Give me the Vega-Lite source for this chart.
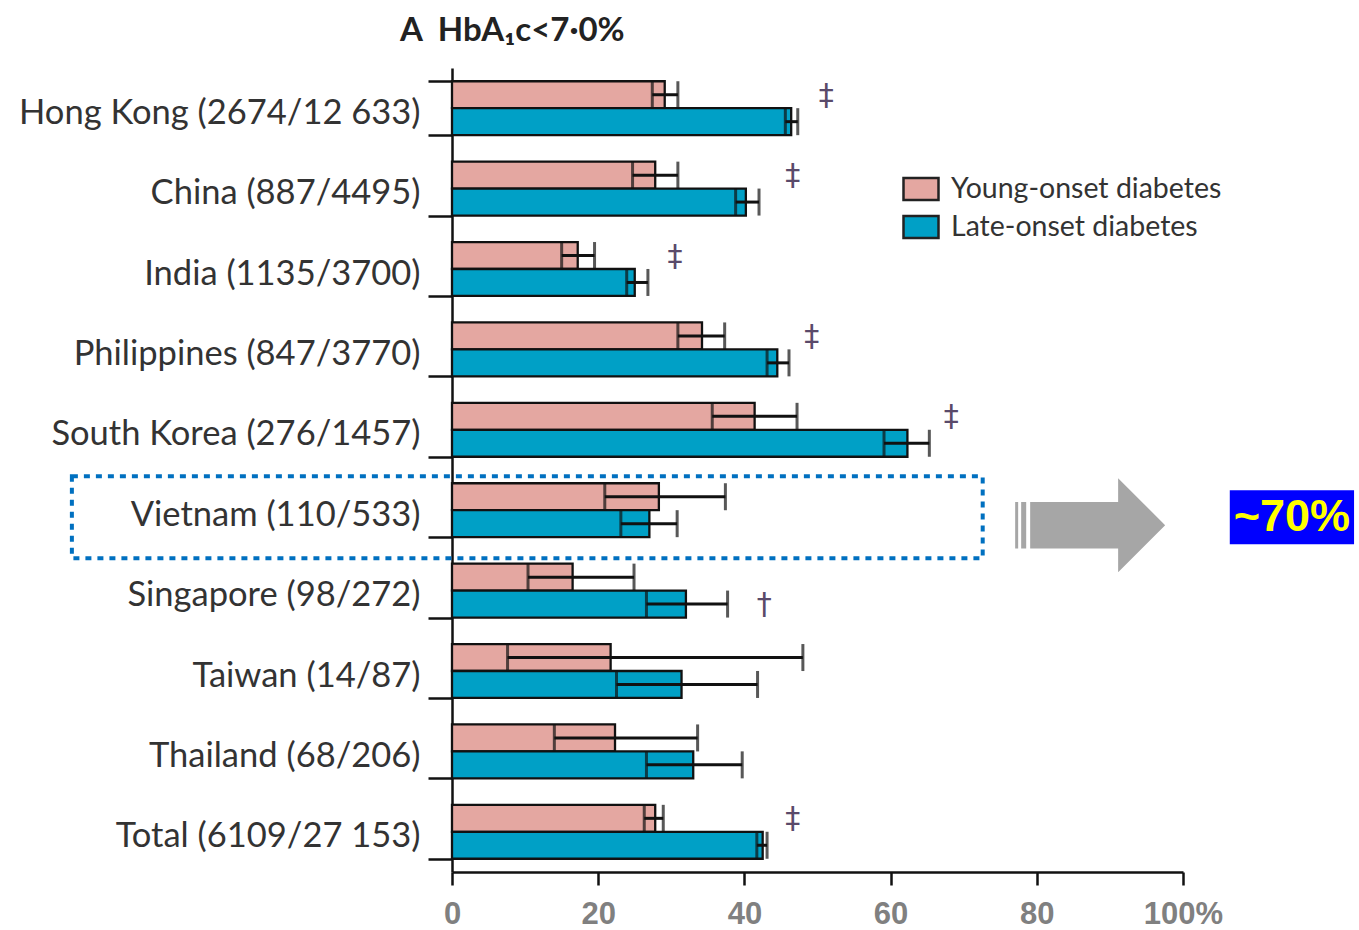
{
  "$schema": "https://vega.github.io/schema/vega-lite/v6.json",
  "autosize": {"type": "none"},
  "padding": {"left": 452, "top": 68, "right": 176, "bottom": 58},
  "width": 731,
  "height": 804,
  "background": "white",
  "title": {
    "text": "A\u00a0\u00a0HbA₁c<7·0%",
    "anchor": "start",
    "frame": "group",
    "dx": -52,
    "dy": 31,
    "offset": 0,
    "baseline": "bottom",
    "font": "Lato",
    "fontSize": 33,
    "fontWeight": "bold",
    "color": "#222222"
  },
  "config": {
    "view": {"stroke": null},
    "axis": {"grid": false}
  },
  "datasets": {
    "bars": [
      {"country": "Hong Kong (2674/12 633)", "group": "Young-onset diabetes", "value": 29.1, "lo": 27.4, "hi": 30.9, "sig": "‡", "sigx": 51.2},
      {"country": "Hong Kong (2674/12 633)", "group": "Late-onset diabetes", "value": 46.4, "lo": 45.6, "hi": 47.3, "sig": "", "sigx": null},
      {"country": "China (887/4495)", "group": "Young-onset diabetes", "value": 27.8, "lo": 24.7, "hi": 30.9, "sig": "‡", "sigx": 46.6},
      {"country": "China (887/4495)", "group": "Late-onset diabetes", "value": 40.2, "lo": 38.8, "hi": 42.0, "sig": "", "sigx": null},
      {"country": "India (1135/3700)", "group": "Young-onset diabetes", "value": 17.2, "lo": 15.0, "hi": 19.5, "sig": "‡", "sigx": 30.5},
      {"country": "India (1135/3700)", "group": "Late-onset diabetes", "value": 25.0, "lo": 23.9, "hi": 26.8, "sig": "", "sigx": null},
      {"country": "Philippines (847/3770)", "group": "Young-onset diabetes", "value": 34.2, "lo": 30.9, "hi": 37.3, "sig": "‡", "sigx": 49.2},
      {"country": "Philippines (847/3770)", "group": "Late-onset diabetes", "value": 44.5, "lo": 43.1, "hi": 46.1, "sig": "", "sigx": null},
      {"country": "South Korea (276/1457)", "group": "Young-onset diabetes", "value": 41.4, "lo": 35.6, "hi": 47.2, "sig": "‡", "sigx": 68.3},
      {"country": "South Korea (276/1457)", "group": "Late-onset diabetes", "value": 62.3, "lo": 59.1, "hi": 65.3, "sig": "", "sigx": null},
      {"country": "Vietnam (110/533)", "group": "Young-onset diabetes", "value": 28.3, "lo": 20.9, "hi": 37.4, "sig": "", "sigx": null},
      {"country": "Vietnam (110/533)", "group": "Late-onset diabetes", "value": 27.0, "lo": 23.1, "hi": 30.8, "sig": "", "sigx": null},
      {"country": "Singapore (98/272)", "group": "Young-onset diabetes", "value": 16.5, "lo": 10.4, "hi": 24.9, "sig": "", "sigx": null},
      {"country": "Singapore (98/272)", "group": "Late-onset diabetes", "value": 32.0, "lo": 26.6, "hi": 37.7, "sig": "†", "sigx": 42.7},
      {"country": "Taiwan (14/87)", "group": "Young-onset diabetes", "value": 21.7, "lo": 7.6, "hi": 48.0, "sig": "", "sigx": null},
      {"country": "Taiwan (14/87)", "group": "Late-onset diabetes", "value": 31.4, "lo": 22.5, "hi": 41.8, "sig": "", "sigx": null},
      {"country": "Thailand (68/206)", "group": "Young-onset diabetes", "value": 22.3, "lo": 14.0, "hi": 33.6, "sig": "", "sigx": null},
      {"country": "Thailand (68/206)", "group": "Late-onset diabetes", "value": 33.0, "lo": 26.6, "hi": 39.7, "sig": "", "sigx": null},
      {"country": "Total (6109/27 153)", "group": "Young-onset diabetes", "value": 27.8, "lo": 26.3, "hi": 28.9, "sig": "‡", "sigx": 46.6},
      {"country": "Total (6109/27 153)", "group": "Late-onset diabetes", "value": 42.5, "lo": 41.7, "hi": 43.1, "sig": "", "sigx": null}
    ],
    "note": [
      {"country": "Vietnam (110/533)", "boxStart": -52.0, "boxEnd": 72.6, "arrowX": 87.3, "labelStart": 106.4, "labelEnd": 123.4, "labelX": 114.9, "label": "~70%"}
    ]
  },
  "data": {"name": "bars"},
  "encoding": {
    "y": {
      "field": "country",
      "type": "nominal",
      "sort": null,
      "scale": {"paddingInner": 0.33, "paddingOuter": 0.165},
      "axis": {
        "title": null,
        "tickBand": "extent",
        "tickSize": 24,
        "tickWidth": 2.5,
        "tickColor": "#111111",
        "domainColor": "#111111",
        "domainWidth": 2.5,
        "labelFont": "Lato",
        "labelFontSize": 34.5,
        "labelColor": "#333333",
        "labelPadding": 8,
        "labelOffset": 5,
        "labelLimit": 500
      }
    }
  },
  "layer": [
    {
      "mark": {"type": "bar", "stroke": "#111111", "strokeWidth": 2.3, "opacity": 1},
      "encoding": {
        "yOffset": {"field": "group", "type": "nominal", "sort": ["Young-onset diabetes", "Late-onset diabetes"], "scale": {"paddingInner": 0, "paddingOuter": 0}},
        "x": {
          "field": "value",
          "type": "quantitative",
          "scale": {"domain": [0, 100], "nice": false},
          "axis": {
            "title": null,
            "values": [0, 20, 40, 60, 80, 100],
            "labelExpr": "datum.value == 100 ? '100%' : datum.label",
            "labelFlush": false,
            "tickSize": 13,
            "tickWidth": 2.5,
            "tickColor": "#111111",
            "domainColor": "#111111",
            "domainWidth": 2.5,
            "labelFont": "Liberation Sans",
            "labelFontWeight": "bold",
            "labelFontSize": 31,
            "labelColor": "#808080",
            "labelPadding": 14
          }
        },
        "color": {
          "field": "group",
          "type": "nominal",
          "scale": {"domain": ["Young-onset diabetes", "Late-onset diabetes"], "range": ["#e4a7a1", "#00a0c6"]},
          "legend": {
            "title": null,
            "orient": "none",
            "legendX": 450,
            "legendY": 102,
            "padding": 0,
            "symbolType": "M-1,-0.63H1V0.63H-1Z",
            "symbolSize": 1225,
            "symbolStrokeColor": "#222222",
            "symbolStrokeWidth": 2.5,
            "symbolOpacity": 1,
            "labelFont": "Lato",
            "labelFontSize": 28.5,
            "labelColor": "#333333",
            "labelOffset": 11,
            "rowPadding": 2,
            "labelLimit": 400
          }
        }
      }
    },
    {
      "mark": {"type": "rule", "color": "#111111", "strokeWidth": 3},
      "encoding": {
        "yOffset": {"field": "group", "type": "nominal", "sort": ["Young-onset diabetes", "Late-onset diabetes"]},
        "x": {"field": "lo", "type": "quantitative"},
        "x2": {"field": "hi"}
      }
    },
    {
      "mark": {"type": "tick", "color": "#111111", "thickness": 3, "size": 27, "orient": "vertical"},
      "encoding": {
        "yOffset": {"field": "group", "type": "nominal", "sort": ["Young-onset diabetes", "Late-onset diabetes"]},
        "x": {"field": "lo", "type": "quantitative"}
      }
    },
    {
      "mark": {"type": "tick", "color": "#111111", "thickness": 3, "size": 27, "orient": "vertical"},
      "encoding": {
        "yOffset": {"field": "group", "type": "nominal", "sort": ["Young-onset diabetes", "Late-onset diabetes"]},
        "x": {"field": "hi", "type": "quantitative"}
      }
    },
    {
      "transform": [{"filter": "datum.sig != ''"}],
      "mark": {"type": "text", "font": "DejaVu Sans", "fontSize": 30, "color": "#5a4a6a", "baseline": "middle", "dy": 1},
      "encoding": {
        "yOffset": {"field": "group", "type": "nominal", "sort": ["Young-onset diabetes", "Late-onset diabetes"]},
        "x": {"field": "sigx", "type": "quantitative"},
        "text": {"field": "sig"}
      }
    },
    {
      "data": {"name": "note"},
      "mark": {"type": "rect", "fill": null, "fillOpacity": 0, "stroke": "#0070c0", "strokeWidth": 4, "strokeDash": [6, 6], "height": {"band": 1.52}, "yOffset": 7},
      "encoding": {
        "x": {"field": "boxStart", "type": "quantitative"},
        "x2": {"field": "boxEnd"}
      }
    },
    {
      "data": {"name": "note"},
      "mark": {"type": "point", "filled": true, "fill": "#a6a6a6", "opacity": 1, "strokeWidth": 0, "size": 22500, "shape": "M-1,-0.11L-0.96,-0.11L-0.96,0.51L-1,0.51ZM-0.92,-0.11L-0.853,-0.11L-0.853,0.51L-0.92,0.51ZM-0.8,-0.11L0.373,-0.11L0.373,-0.427L1,0.2L0.373,0.827L0.373,0.51L-0.8,0.51Z"},
      "encoding": {
        "x": {"field": "arrowX", "type": "quantitative"}
      }
    },
    {
      "data": {"name": "note"},
      "mark": {"type": "bar", "fill": "#0000ff", "opacity": 1, "yOffset": 7},
      "encoding": {
        "x": {"field": "labelStart", "type": "quantitative"},
        "x2": {"field": "labelEnd"}
      }
    },
    {
      "data": {"name": "note"},
      "mark": {"type": "text", "font": "Liberation Sans", "fontWeight": "bold", "fontSize": 45, "color": "#ffff00", "baseline": "middle", "dy": 7},
      "encoding": {
        "x": {"field": "labelX", "type": "quantitative"},
        "text": {"field": "label"}
      }
    }
  ]
}
